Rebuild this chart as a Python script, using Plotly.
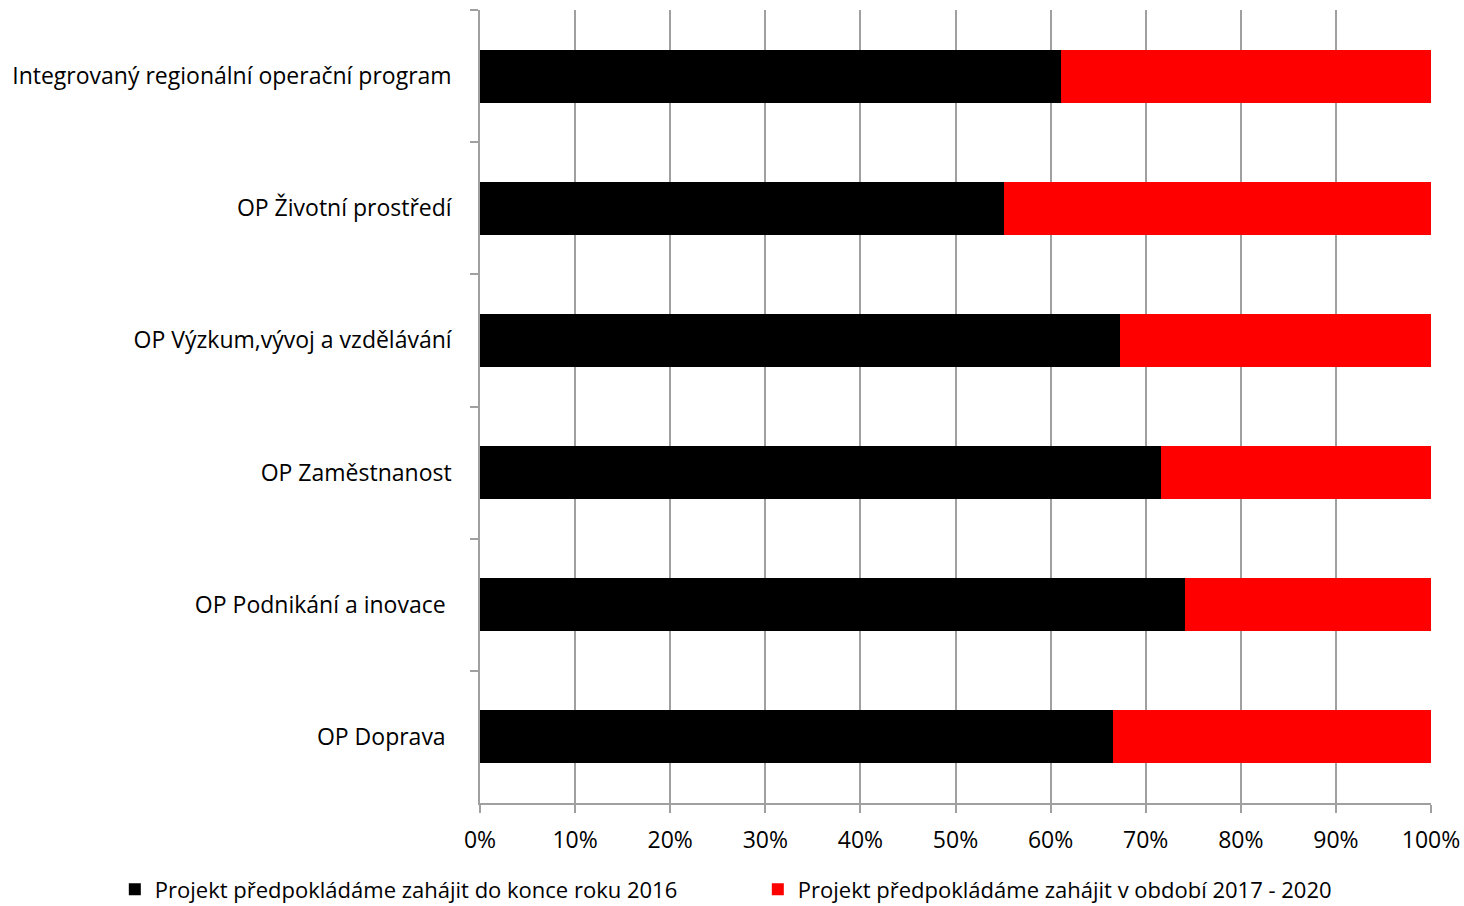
import plotly.graph_objects as go

categories = [
    "Integrovaný regionální operační program",
    "OP Životní prostředí",
    "OP Výzkum,vývoj a vzdělávání",
    "OP Zaměstnanost",
    "OP Podnikání a inovace ",
    "OP Doprava ",
]
series_names = [
    "Projekt předpokládáme zahájit do konce roku 2016",
    "Projekt předpokládáme zahájit v období 2017 - 2020",
]
do_2016 = [61.1, 55.1, 67.3, 71.6, 74.1, 66.6]
obdobi_2017_2020 = [100 - v for v in do_2016]
tick_vals = [0, 10, 20, 30, 40, 50, 60, 70, 80, 90, 100]
tick_text = [f"{v}%" for v in tick_vals]

FONT = "Open Sans"

fig = go.Figure()
fig.add_trace(go.Bar(y=categories, x=do_2016, orientation="h", name=series_names[0],
                     marker=dict(color="#000000", line=dict(width=0))))
fig.add_trace(go.Bar(y=categories, x=obdobi_2017_2020, orientation="h", name=series_names[1],
                     marker=dict(color="#ff0000", line=dict(width=0))))

fig.update_layout(
    barmode="stack",
    bargap=0.6,
    width=1464, height=906,
    margin=dict(l=480, r=33, t=10, b=103, pad=0, autoexpand=False),
    plot_bgcolor="white", paper_bgcolor="white",
    font=dict(family=FONT, size=23, color="#000000"),
    showlegend=True,
    legend=dict(orientation="h", x=-0.384, xanchor="left", entrywidth=598,
                y=-0.109, yanchor="middle", font=dict(size=22), traceorder="normal"),
    xaxis=dict(range=[0, 100], tickvals=tick_vals, ticktext=tick_text,
               showgrid=True, gridcolor="#a0a0a0", gridwidth=1.5,
               showline=True, linecolor="#a0a0a0", linewidth=1.5,
               ticks="outside", ticklen=8, tickcolor="#a0a0a0", tickwidth=1.5,
               ticklabelstandoff=8, zeroline=False, automargin=False),
    yaxis=dict(autorange="reversed", showgrid=False,
               showline=True, linecolor="#a0a0a0", linewidth=1.5,
               ticks="outside", ticklen=8, tickcolor="#a0a0a0", tickwidth=1.5,
               tickson="boundaries", ticklabelstandoff=22, zeroline=False,
               automargin=False),
)

fig.write_html("out.html", config={"displayModeBar": False},
               post_script="document.body.style.margin='0';document.body.style.overflow='hidden';")
